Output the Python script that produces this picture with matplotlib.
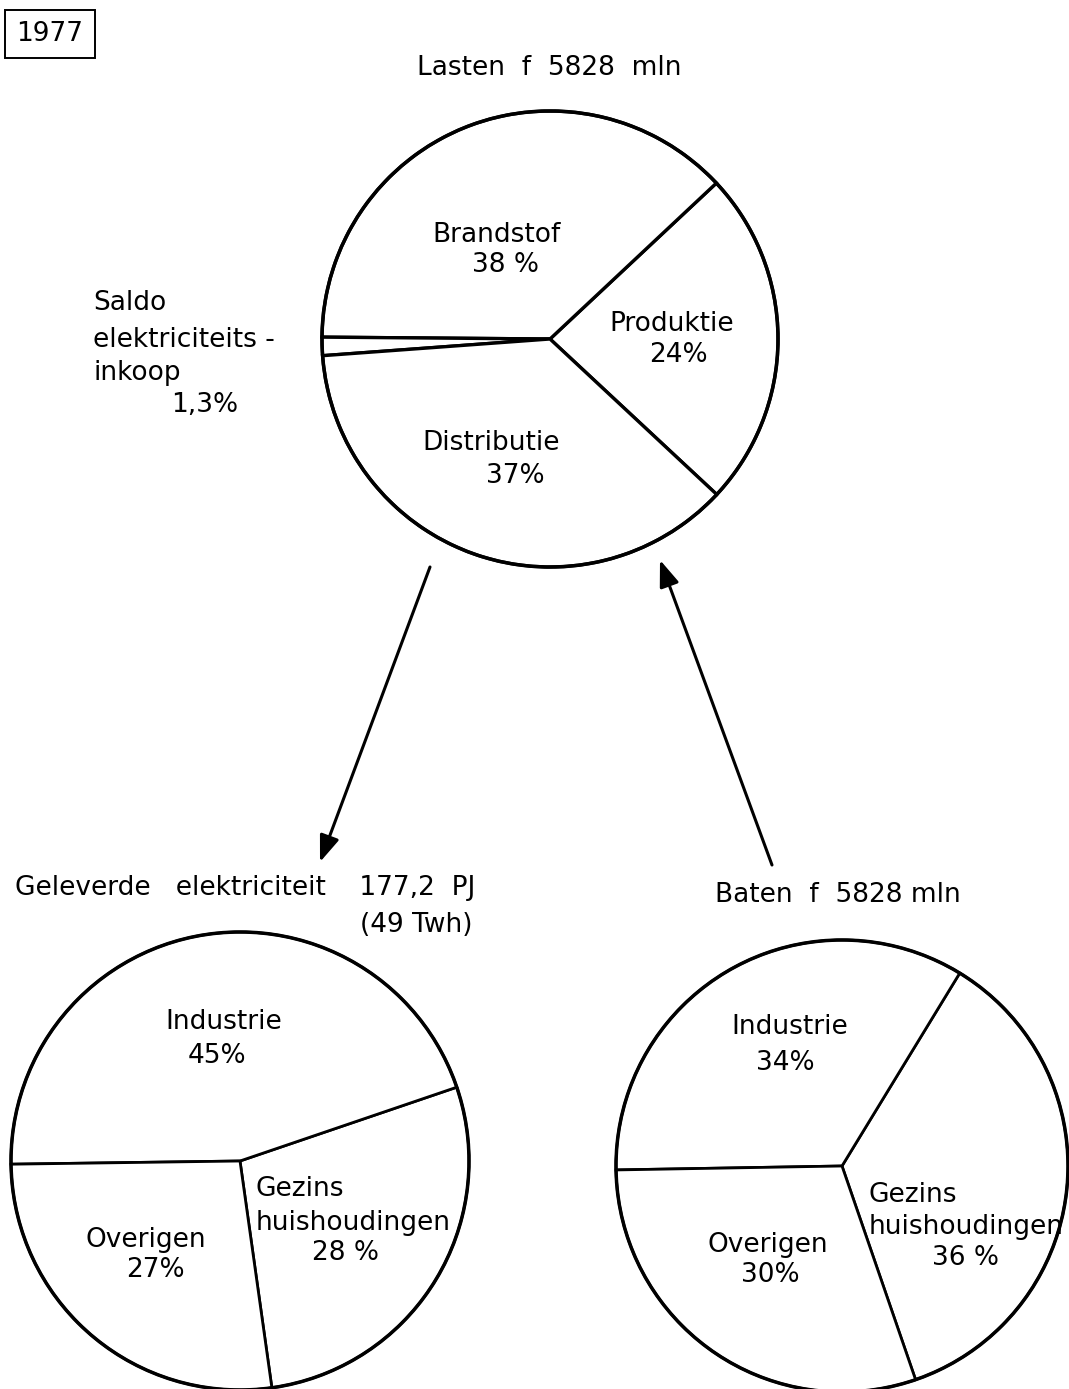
import matplotlib
matplotlib.use("Agg")
import matplotlib.pyplot as plt

# ---- data -------------------------------------------------------------
year = "1977"

lasten_title = "Lasten  f  5828  mln"
lasten_labels = ["Produktie", "Brandstof", "Saldo elektriciteits-inkoop", "Distributie"]
lasten_pct = [24, 38, 1.3, 37]
lasten_pct_text = ["24%", "38 %", "1,3%", "37%"]

geleverd_title = "Geleverde   elektriciteit    177,2  PJ"
geleverd_sub = "(49 Twh)"
geleverd_labels = ["Gezins\nhuishoudingen", "Industrie", "Overigen"]
geleverd_pct = [28, 45, 27]
geleverd_pct_text = ["28 %", "45%", "27%"]

baten_title = "Baten  f  5828 mln"
baten_labels = ["Gezins\nhuishoudingen", "Industrie", "Overigen"]
baten_pct = [36, 34, 30]
baten_pct_text = ["36 %", "34%", "30%"]

# ---- layout (image pixel coords, y measured from the top) --------------
W, H = 1069, 1389
FS = 19

fig = plt.figure(figsize=(W / 100, H / 100), dpi=100)
ax = fig.add_axes([0, 0, 1, 1])


def Y(y):
    return H - y


def pie(vals, center, r, start, lw_edge):
    wedges, _ = ax.pie(vals, center=(center[0], Y(center[1])), radius=r,
                       startangle=start, counterclock=True, normalize=True,
                       wedgeprops=dict(facecolor="white", edgecolor="black",
                                       linewidth=lw_edge))
    # thick outer ring
    ax.add_patch(plt.Circle((center[0], Y(center[1])), r, fill=False,
                            edgecolor="black", linewidth=2.5, zorder=5))
    return wedges


pie(lasten_pct, (550, 339), 228, -43, 2.4)
pie(geleverd_pct, (240, 1161), 229, -82, 2.0)
pie(baten_pct, (842, 1166), 226, -71, 2.0)


def txt(x, y, s, ha="center", **kw):
    kw.setdefault("linespacing", 1.15)
    ax.text(x, Y(y), s, ha=ha, va="center", fontsize=FS, color="black", **kw)


# year box
txt(50, 34, year, bbox=dict(boxstyle="square,pad=0.42", fc="white",
                            ec="black", lw=1.4))

# top pie
txt(549, 68, lasten_title)
txt(497, 235, lasten_labels[1])
txt(505, 265, lasten_pct_text[1])
txt(672, 324, lasten_labels[0])
txt(678, 355, lasten_pct_text[0])
txt(491, 443, lasten_labels[3])
txt(515, 476, lasten_pct_text[3])
txt(93, 303, "Saldo", ha="left")
txt(93, 340, "elektriciteits -", ha="left")
txt(93, 373, "inkoop", ha="left")
txt(205, 405, lasten_pct_text[2])

# bottom-left pie
txt(15, 888, geleverd_title, ha="left")
txt(473, 925, geleverd_sub, ha="right")
txt(224, 1022, geleverd_labels[1])
txt(217, 1056, geleverd_pct_text[1])
txt(353, 1206, geleverd_labels[0], multialignment="left", linespacing=1.35)
txt(346, 1253, geleverd_pct_text[0])
txt(146, 1240, geleverd_labels[2])
txt(155, 1270, geleverd_pct_text[2])

# bottom-right pie
txt(838, 895, baten_title)
txt(790, 1027, baten_labels[1])
txt(785, 1063, baten_pct_text[1])
txt(966, 1211, baten_labels[0], multialignment="left", linespacing=1.35)
txt(965, 1258, baten_pct_text[0])
txt(768, 1245, baten_labels[2])
txt(770, 1275, baten_pct_text[2])

# flow arrows
arrow = dict(arrowstyle="-|>,head_length=0.8,head_width=0.3", color="black",
             lw=2.2, shrinkA=0, shrinkB=0, mutation_scale=20)
ax.annotate("", xy=(320, Y(862)), xytext=(430, Y(567)), arrowprops=arrow)
ax.annotate("", xy=(660, Y(560)), xytext=(772, Y(865)), arrowprops=arrow)

ax.set_xlim(0, W)
ax.set_ylim(0, H)
ax.set_aspect("auto")
ax.set_axis_off()

fig.savefig("out.png", dpi=100, facecolor="white")
